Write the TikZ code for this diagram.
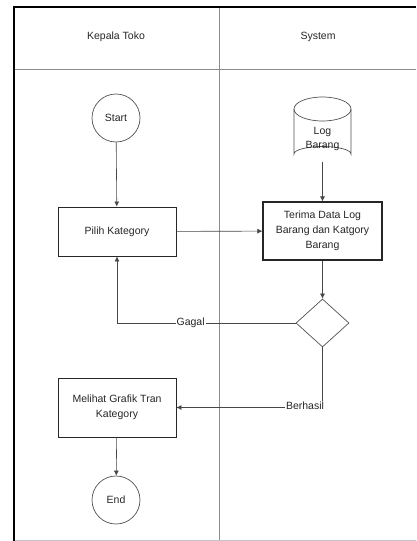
\documentclass[tikz,border=0pt]{standalone}
\usepackage{fontspec}
\setmainfont{Liberation Sans}
\usetikzlibrary{arrows.meta,shapes.geometric}
\definecolor{ink}{HTML}{262626}
\definecolor{lane}{HTML}{8C8C8C}
\tikzset{
  txt/.style={font=\fontsize{10.5}{15}\selectfont, text=ink, align=center},
  procbox/.style={txt, draw=ink, line width=0.9pt, inner sep=0pt},
  terminal/.style={txt, draw=ink!80, line width=0.7pt, circle, minimum size=48pt, inner sep=0pt},
  decision/.style={draw=ink!80, line width=0.7pt, diamond, minimum width=53pt, minimum height=48pt, inner sep=0pt},
  flow/.style={draw=ink!85, line width=0.6pt, -{Latex[length=5pt,width=5pt]}},
  edgelabel/.style={txt, fill=white, inner sep=1pt},
}
\begin{document}
\begin{tikzpicture}[x=1pt,y=-1pt]
\useasboundingbox (0,0) rectangle (416,541);
% swimlane frame
\draw[lane, line width=0.8pt] (14,69) -- (416,69);
\draw[lane, line width=0.8pt] (219,7) -- (219,541);
\draw[lane!50, line width=0.6pt] (14,540) -- (416,540);
\draw[black, line width=1.2pt] (14,541) -- (14,7) -- (416,7);
\node[txt] (lane1) at (116,37) {Kepala Toko};
\node[txt] (lane2) at (318,37) {System};

% shapes
\node[terminal] (start) at (116,118) {Start};
\node[procbox, minimum width=118pt, minimum height=49pt] (pilih) at (117,231.5) {Pilih Kategory};
\node[procbox, line width=1.2pt, minimum width=119pt, minimum height=58pt] (terima) at (322.5,231) {Terima Data Log\\Barang dan Katgory\\Barang};
\node[decision] (dec) at (322.5,323) {};
\node[procbox, minimum width=118pt, minimum height=59pt] (lihat) at (117,407.5) {Melihat Grafik Tran\\Kategory};
\node[terminal] (end) at (116,500) {End};

% data store
\draw[ink!80, line width=0.7pt, fill=white] (294,109) -- (294,154) arc[start angle=180, end angle=360, x radius=28.5, y radius=7.5] -- (351,109);
\draw[ink!80, line width=0.7pt] (322.5,109) ellipse[x radius=28.5, y radius=12];
\node[inner sep=0pt, minimum width=57pt, minimum height=64.5pt] (logb) at (322.5,129.25) {};
\node[txt, font=\fontsize{10.5}{14}\selectfont] (logtxt) at (322.5,138.5) {Log\\Barang};

% connectors
\draw[flow] (start) -- (pilih);
\draw[flow] (logb.south) -- (terima);
\draw[flow] (pilih) -- (terima);
\draw[flow] (terima) -- (dec);
\draw[flow] (dec.west) -| node[edgelabel, pos=0.294] {Gagal} (pilih.south);
\draw[flow] (dec.south) |- node[edgelabel, pos=0.56, yshift=2pt] {Berhasil} (lihat.east);
\draw[flow] (lihat) -- (end);
\end{tikzpicture}
\end{document}
